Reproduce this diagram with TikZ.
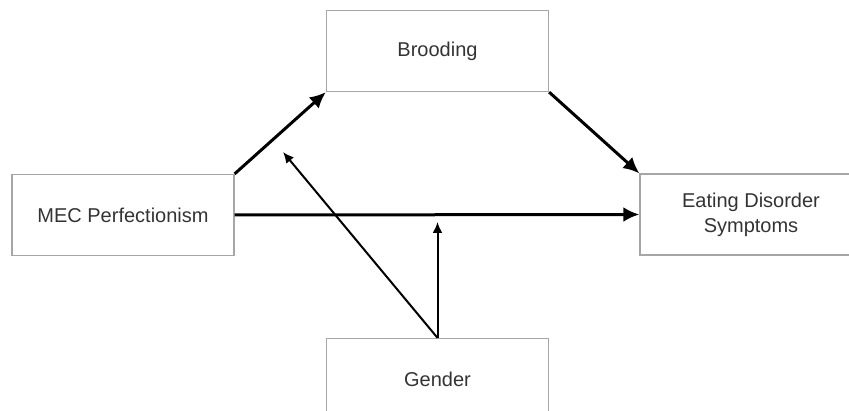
\documentclass[tikz,border=0pt]{standalone}
\usepackage{fontspec}
\setmainfont{Liberation Sans}
\usetikzlibrary{arrows.meta,positioning}

\tikzset{
  varbox/.style={draw=gray!70, line width=1.3pt, minimum width=222pt, minimum height=81pt,
    align=center, text=black!80, font=\fontsize{20}{25}\selectfont},
  mainpath/.style={line width=3pt, -{Latex[length=16pt,width=15pt]}},
  modpath/.style={line width=2pt, -{Latex[length=11pt,width=10pt]}}
}

\begin{document}
\begin{tikzpicture}[x=1pt,y=-1pt]
  \useasboundingbox (0,0) rectangle (849,411);
  \clip (0,0) rectangle (849,411);

  %Draw the four variable boxes
  \node[varbox] (brood) at (437.5,51) {Brooding};
  \node[varbox] (mec) at (123,215) {MEC Perfectionism};
  \node[varbox] (eds) at (751,214.5) {Eating Disorder\\Symptoms};
  \node[varbox] (gender) at (437.5,379) {Gender};

  %Draw the mediation paths
  \draw[mainpath] (mec.north east) -- (brood.south west);
  \draw[mainpath] (brood.south east) -- (eds.north west);
  \draw[mainpath] (mec.east) -- (eds.west);

  %Draw the moderation paths from gender
  \coordinate (modA) at (283,152);
  \coordinate (modB) at (437.5,222);
  \draw[modpath] (gender.north) -- (modA);
  \draw[modpath] (gender.north) -- (modB);
\end{tikzpicture}
\end{document}
